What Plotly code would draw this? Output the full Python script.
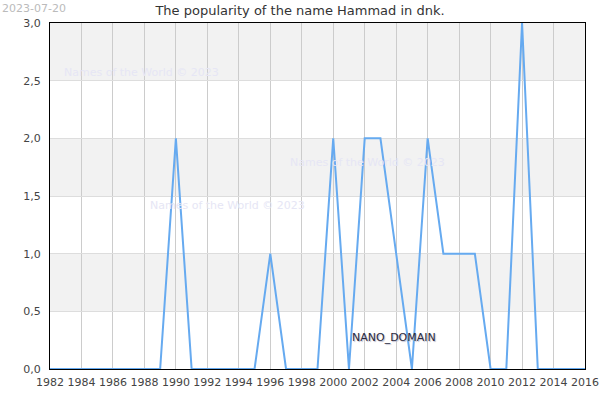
import plotly.graph_objects as go

years = list(range(1982, 2017))
values = [0, 0, 0, 0, 0, 0, 0, 0, 2, 0, 0, 0, 0, 0, 1, 0, 0, 0, 2, 0,
          2, 2, 1, 0, 2, 1, 1, 1, 0, 0, 3, 0, 0, 0, 0]
title = "The popularity of the name Hammad in dnk."
date_label = "2023-07-20"
watermark = "Names of the World © 2023"

L, T, R, B = 50, 23, 15, 31
PW, PH = 600 - L - R, 400 - T - B

def px(x):
    return (x - L) / PW

def py(y):
    return 1 - (y - T) / PH

fig = go.Figure()
fig.add_trace(go.Scatter(x=years, y=values, mode="lines",
                         line=dict(color="#66aaf0", width=2), hoverinfo="skip"))

shapes = []
for lo in [0.5, 1.5, 2.5]:
    shapes.append(dict(type="rect", xref="paper", yref="y", x0=0, x1=1, y0=lo, y1=lo + 0.5,
                       fillcolor="#f2f2f2", line=dict(width=0), layer="below"))
fig.update_layout(shapes=shapes)

font = "DejaVu Sans, sans-serif"
fig.update_layout(
    width=600, height=400,
    margin=dict(l=L, r=R, t=T, b=B),
    plot_bgcolor="white", paper_bgcolor="white",
    separators=", ",
    showlegend=False,
    font=dict(family=font, size=11, color="#444"),
    title=dict(text=title, x=0.5, xanchor="center", y=0.975, yanchor="middle",
               font=dict(family=font, size=13, color="#333")),
    xaxis=dict(range=[1982, 2016], tickmode="linear", tick0=1982, dtick=2,
               showgrid=True, gridcolor="#cccccc", gridwidth=1,
               showline=True, linecolor="black", linewidth=1, mirror=True,
               zeroline=False, ticks="outside", ticklen=3, tickcolor="rgba(0,0,0,0)",
               automargin=False, tickfont=dict(size=11, color="#444")),
    yaxis=dict(range=[0, 3], tickmode="linear", tick0=0, dtick=0.5, tickformat=".1f",
               showgrid=True, gridcolor="#dddddd", gridwidth=1,
               showline=True, linecolor="black", linewidth=1, mirror=True,
               zeroline=False, ticks="outside", ticklen=6, tickcolor="rgba(0,0,0,0)",
               automargin=False, tickfont=dict(size=11, color="#444")),
)

annotations = [
    dict(text=date_label, x=px(0), y=py(0), xref="paper", yref="paper", xanchor="left", yanchor="top",
         showarrow=False, font=dict(size=11, color="#bbbbbb")),
]
for (wx, wy) in [(62, 72), (288, 162), (148, 205)]:
    annotations.append(dict(text=watermark, x=px(wx), y=py(wy), xref="paper", yref="paper",
                            xanchor="left", yanchor="middle", showarrow=False,
                            font=dict(size=11, color="#e6e6f5")))
annotations.append(dict(text="NANO_DOMAIN", x=px(350), y=py(337), xref="paper", yref="paper",
                        xanchor="left", yanchor="middle", showarrow=False,
                        font=dict(size=11, color="#2a2a40", shadow="1px 1px 1px #bbbbcc")))
fig.update_layout(annotations=annotations)

fig.write_html("out.html")
